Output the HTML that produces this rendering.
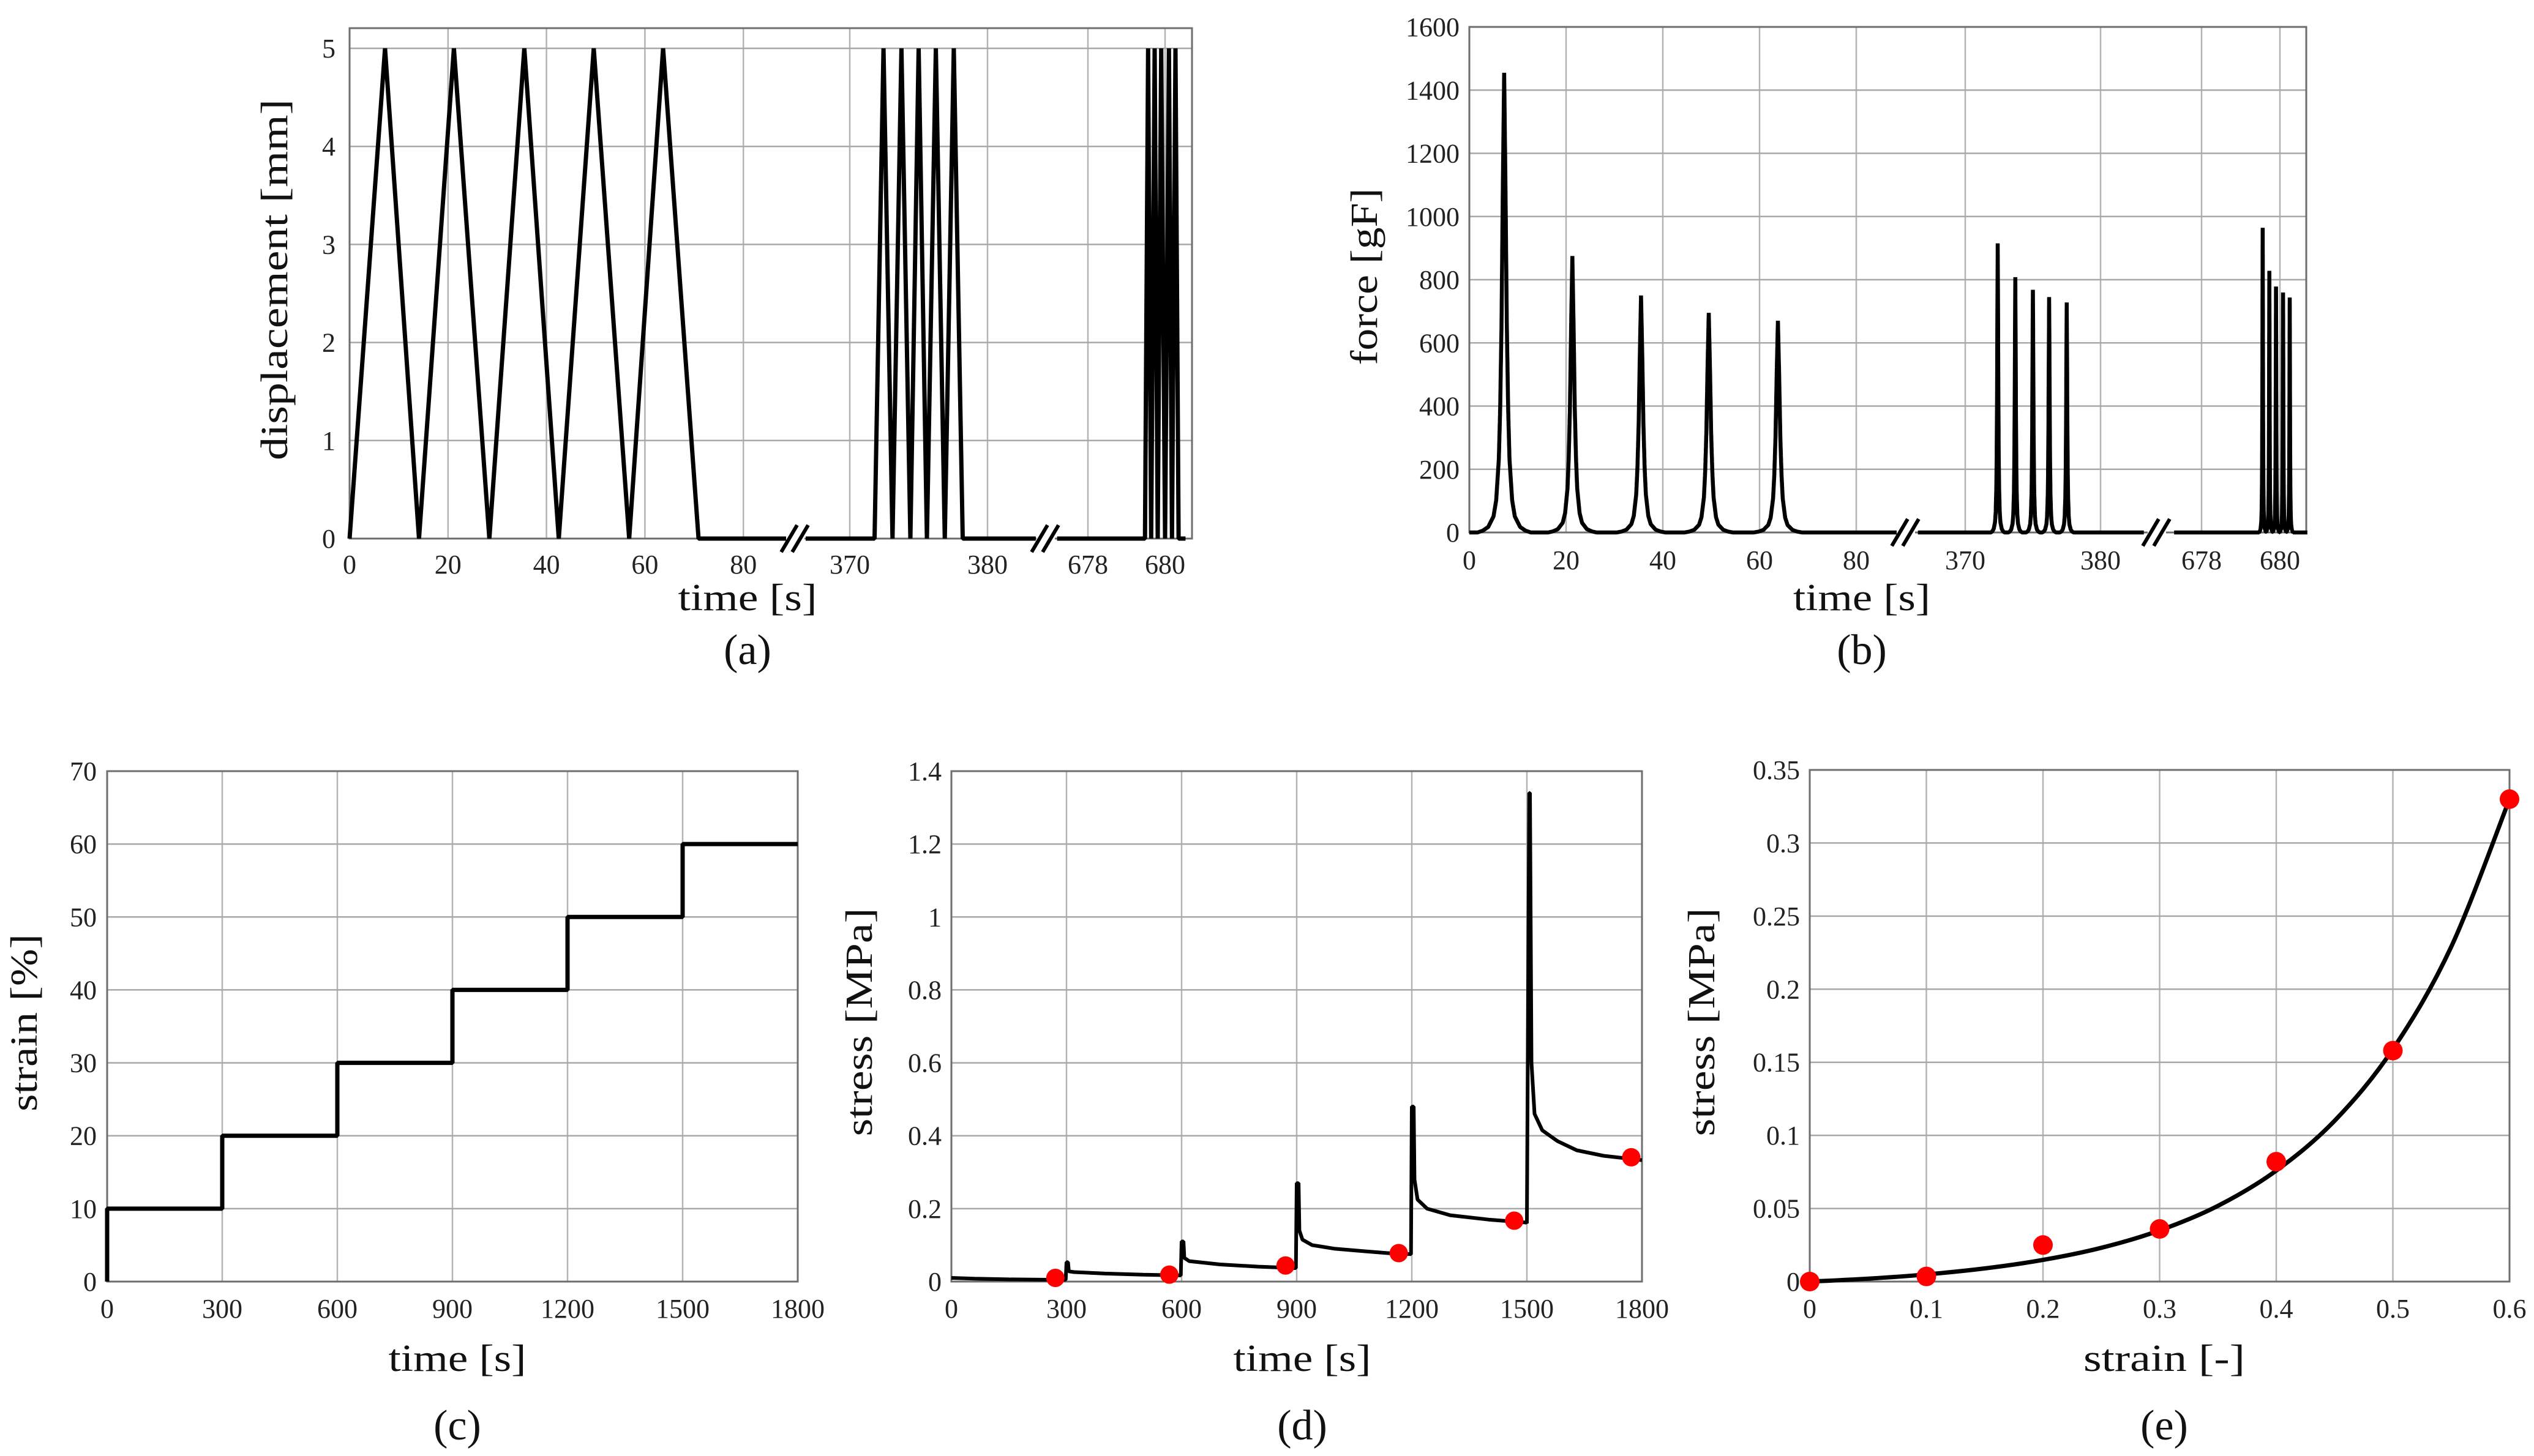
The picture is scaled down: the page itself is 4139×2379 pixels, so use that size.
<!DOCTYPE html>
<html><head><meta charset="utf-8"><title>Mechanical test figure</title>
<style>
html,body{margin:0;padding:0;background:#fff;}
svg{display:block;font-family:"Liberation Serif",serif;}
.tick{font-size:44px;fill:#222;}
.title{font-size:62px;fill:#111;}
.cap{font-size:70px;fill:#111;}
</style></head>
<body>
<svg id="fig" width="4139" height="2379" viewBox="0 0 4139 2379" xmlns="http://www.w3.org/2000/svg">
<rect x="0" y="0" width="4139" height="2379" fill="#fff"/>
</svg>
<script>
// ---------- (a) displacement data ----------
const dispTimes = [0,7.2,14.1,21.2,28.4,35.5,42.5,49.6,56.8,63.7,70.9,89,
  366.8,371.8,372.45,373.1,373.75,374.4,375.0,375.6,376.25,376.9,377.55,378.2,383.5,
  677.2,679.48,679.56,679.64,679.73,679.81,679.9,680.0,680.1,680.18,680.27,680.35,680.53];
const dispValues = [0,5,0,5,0,5,0,5,0,5,0,0,
  0,0,5,0,5,0,5,0,5,0,5,0,0,
  0,0,5,0,5,0,5,0,5,0,5,0,0];
const dispYTicks = [0,1,2,3,4,5];
// ---------- (b) force data ----------
const forcePeakTimes = [7.2,21.3,35.5,49.5,63.8, 372.4,373.7,375.0,376.2,377.5, 679.56,679.73,679.9,680.08,680.25];
const forcePeakValues = [1455,875,750,695,670, 915,808,768,745,728, 975,828,787,768,752];
const forcePeakWidths = [0.55,0.5,0.5,0.5,0.5, 0.05,0.05,0.05,0.05,0.05, 0.009,0.009,0.009,0.009,0.009];
const peakProfileU = [0,0.5,1,1.5,2,3,4,6,8,10];
const peakProfileF = [1,0.75,0.45,0.27,0.16,0.07,0.035,0.012,0.004,0];
const forceYTicks = [0,200,400,600,800,1000,1200,1400,1600];
// shared broken-axis tick labels
const brokenXTickValues = [0,20,40,60,80,370,380,678,680];
// ---------- (c) strain data ----------
const strainTimes = [0,0,300,300,600,600,900,900,1200,1200,1500,1500,1800];
const strainValues = [0,10,10,20,20,30,30,40,40,50,50,60,60];
const strainYTicks = [0,10,20,30,40,50,60,70];
const timeXTicks = [0,300,600,900,1200,1500,1800];
// ---------- (d) stress vs time ----------
const stressTimes = [0,60,150,250,298,300,304,306,320,400,500,598,600,605,607,620,700,800,898,
  900,905,907,915,940,1000,1080,1150,1198,1200,1205,1207,1215,1240,1300,1400,1498,
  1500,1506,1508,1512,1520,1540,1580,1630,1700,1800];
const stressValues = [0.010,0.008,0.006,0.005,0.005,0.053,0.053,0.028,0.026,0.022,0.019,0.017,0.11,0.11,0.065,0.056,0.047,0.041,0.037,
  0.27,0.27,0.14,0.115,0.1,0.09,0.083,0.077,0.075,0.48,0.48,0.28,0.225,0.2,0.182,0.17,0.162,
  0.16,1.34,1.34,0.6,0.46,0.415,0.385,0.36,0.345,0.333];
const stressDotTimes = [271,568,871,1166,1467,1772];
const stressDotValues = [0.010,0.019,0.044,0.078,0.167,0.341];
const stressYTicks = [0,0.2,0.4,0.6,0.8,1,1.2,1.4];
const stressYTickLabels = ["0","0.2","0.4","0.6","0.8","1","1.2","1.4"];
// ---------- (e) stress vs strain ----------
const fitStrain = [0,0.05,0.1,0.15,0.2,0.25,0.3,0.35,0.4,0.45,0.5,0.55,0.6];
const fitStress = [0,0.002,0.0049,0.009,0.0148,0.0231,0.035,0.0518,0.0759,0.110,0.159,0.229,0.330];
const ssDotStrain = [0,0.1,0.2,0.3,0.4,0.5,0.6];
const ssDotStress = [0,0.0035,0.025,0.036,0.082,0.158,0.330];
const ssXTicks = [0,0.1,0.2,0.3,0.4,0.5,0.6];
const ssXTickLabels = ["0","0.1","0.2","0.3","0.4","0.5","0.6"];
const ssYTicks = [0,0.05,0.1,0.15,0.2,0.25,0.3,0.35];
const ssYTickLabels = ["0","0.05","0.1","0.15","0.2","0.25","0.3","0.35"];

const NS = "http://www.w3.org/2000/svg";
const fig = document.getElementById('fig');
function el(tag, attrs, parent){ const e=document.createElementNS(NS,tag); for(const k in attrs) e.setAttribute(k,attrs[k]); (parent||fig).appendChild(e); return e; }
function txt(s, attrs, parent){ const e=el('text',attrs,parent); e.textContent=s; return e; }

function makeBroken(segs){
  return {segs, map(t){ for(const s of segs){ if(t>=s[0]-1e-9 && t<=s[1]+1e-9) return s[3]+(t-s[2])*s[4]; } return null; }};
}
function linear(d0,d1,r0,r1){ return v=>r0+(v-d0)*(r1-r0)/(d1-d0); }

function frameAndGrid(g, L,R,T,B, xPix, yPix){
  for(const x of xPix){ const l=el('line',{x1:x,x2:x,y1:T,y2:B,stroke:'#b4b4b4','stroke-width':2.5},g);
      }
  for(const y of yPix){ const l=el('line',{x1:L,x2:R,y1:y,y2:y,stroke:'#a8a8a8','stroke-width':2.5},g);
      }
  const f=el('rect',{x:L,y:T,width:R-L,height:B-T,fill:'none',stroke:'#6e6e6e','stroke-width':3},g);
   
}
function group(name){ const g=el('g',{});   return g; }
function yTickLabels(g, ys, labels, xRight){
  ys.forEach((y,i)=>{ const t=txt(labels[i],{x:xRight,y:y+15,'text-anchor':'end','class':'tick'},g);
      });
}
function xTickLabels(g, xs, labels, yBase){
  xs.forEach((x,i)=>{ const t=txt(labels[i],{x:x,y:yBase,'text-anchor':'middle','class':'tick'},g);
      });
}
function titles(g, xt, xcx, xby, yt, ycx, ycy, ylen, xlen, cap, cby){
  const a=txt(xt,{x:xcx,y:xby,'text-anchor':'middle','class':'title',textLength:xlen,lengthAdjust:'spacingAndGlyphs'},g);
   
  const b=txt(yt,{x:0,y:0,'text-anchor':'middle','class':'title',textLength:ylen,lengthAdjust:'spacingAndGlyphs',transform:`translate(${ycx+20},${ycy}) rotate(-90)`},g);
   
  const c=txt(cap,{x:xcx,y:cby,'text-anchor':'middle','class':'cap'},g);
   
}
function breakMark(g, x, y){
  const w=el('rect',{x:x-14,y:y-6,width:30,height:12,fill:'#fff'},g);
   
  for(const dx of [-9,9]){ const l=el('line',{x1:x+dx-13,y1:y+22,x2:x+dx+13,y2:y-22,stroke:'#000','stroke-width':6},g);
      }
}
function polyline(g, pts, sw, name){
  const p=el('polyline',{points:pts.map(p=>p[0].toFixed(1)+','+p[1].toFixed(1)).join(' '),fill:'none',stroke:'#000','stroke-width':sw,'stroke-linejoin':'bevel'},g);
    return p;
}

// ===== Panel (a) =====
(function(){
  const g=group('panel-a-displacement');
  const L=571,R=1947,T=46,B=880;
  const X=makeBroken([[0,89,0,571,8.04],[366.8,383.5,370,1388,22.5],[677.2,680.53,678,1777,63]]);
  const Y=linear(0,5,880,79);
  const xp=brokenXTickValues.map(v=>X.map(v)), yp=dispYTicks.map(Y);
  frameAndGrid(g,L,R,T,B,xp.slice(1),yp.slice(1));
  X.segs.forEach((s,si)=>{
    const pts=[]; dispTimes.forEach((t,i)=>{ if(t>=s[0]-1e-9&&t<=s[1]+1e-9) pts.push([X.map(t),Y(dispValues[i])]); });
    polyline(g,pts,7,'displacement-line-segment-'+(si+1));
  });
  breakMark(g,1298,880); breakMark(g,1707,880);
  yTickLabels(g,yp,dispYTicks.map(String),548);
  xTickLabels(g,xp,brokenXTickValues.map(String),937);
  titles(g,'time [s]',1221,997,'displacement [mm]',449,457,590,227,'(a)',1085);
})();

// ===== Panel (b) =====
(function(){
  const g=group('panel-b-force');
  const L=2400,R=3767,T=44,B=870;
  const X=makeBroken([[0,89.5,0,2400,7.9],[366.5,383.2,370,3210,22.1],[677.3,680.7,678,3596,64]]);
  const Y=linear(0,1600,870,44);
  const xp=brokenXTickValues.map(v=>X.map(v)), yp=forceYTicks.map(Y);
  frameAndGrid(g,L,R,T,B,xp.slice(1),yp.slice(1));
  function profile(u){ u=Math.abs(u); for(let i=1;i<peakProfileU.length;i++){ if(u<=peakProfileU[i]){ const a=peakProfileU[i-1],b=peakProfileU[i]; return peakProfileF[i-1]+(peakProfileF[i]-peakProfileF[i-1])*(u-a)/(b-a);} } return 0; }
  const steps=[0.02,0.004,0.0006];
  X.segs.forEach((s,si)=>{
    const pts=[];
    for(let t=s[0]; t<=s[1]+1e-9; t+=steps[si]){
      let f=0; forcePeakTimes.forEach((tp,i)=>{ f+=forcePeakValues[i]*profile((t-tp)/forcePeakWidths[i]); });
      pts.push([X.map(t),Y(f)]);
    }
    polyline(g,pts,6.5,'force-line-segment-'+(si+1));
  });
  breakMark(g,3112,870); breakMark(g,3522,870);
  yTickLabels(g,yp,forceYTicks.map(String),2384);
  xTickLabels(g,xp,brokenXTickValues.map(String),930);
  titles(g,'time [s]',3041,997,'force [gF]',2229,452,289,224,'(b)',1085);
})();

// ===== Panel (c) =====
(function(){
  const g=group('panel-c-strain');
  const L=175,R=1303,T=1260,B=2094;
  const X=linear(0,1800,L,R), Y=linear(0,70,B,T);
  const xp=timeXTicks.map(X), yp=strainYTicks.map(Y);
  frameAndGrid(g,L,R,T,B,xp.slice(1,-1),yp.slice(1,-1));
  polyline(g,strainTimes.map((t,i)=>[X(t),Y(strainValues[i])]),7,'strain-step-line');
  yTickLabels(g,yp,strainYTicks.map(String),158);
  xTickLabels(g,xp,timeXTicks.map(String),2153);
  titles(g,'time [s]',747,2240,'strain [%]',40,1671,290,225,'(c)',2352);
})();

// ===== Panel (d) =====
(function(){
  const g=group('panel-d-stress-time');
  const L=1554,R=2682,T=1260,B=2094;
  const X=linear(0,1800,L,R), Y=linear(0,1.4,B,T);
  const xp=timeXTicks.map(X), yp=stressYTicks.map(Y);
  frameAndGrid(g,L,R,T,B,xp.slice(1,-1),yp.slice(1,-1));
  polyline(g,stressTimes.map((t,i)=>[X(t),Y(stressValues[i])]),6,'stress-relaxation-line');
  stressDotTimes.forEach((t,i)=>{ const c=el('circle',{cx:X(t),cy:Y(stressDotValues[i]),r:15,fill:'#ff0000'},g);
      });
  yTickLabels(g,yp,stressYTickLabels,1538);
  xTickLabels(g,xp,timeXTicks.map(String),2153);
  titles(g,'time [s]',2127,2240,'stress [MPa]',1404,1670,373,225,'(d)',2352);
})();

// ===== Panel (e) =====
(function(){
  const g=group('panel-e-stress-strain');
  const L=2956,R=4099,T=1258,B=2094;
  const X=linear(0,0.6,L,R), Y=linear(0,0.35,B,T);
  const xp=ssXTicks.map(X), yp=ssYTicks.map(Y);
  frameAndGrid(g,L,R,T,B,xp.slice(1,-1),yp.slice(1,-1));
  const P=fitStrain.map((s,i)=>[X(s),Y(fitStress[i])]);
  let d='M'+P[0][0].toFixed(1)+','+P[0][1].toFixed(1);
  for(let i=0;i<P.length-1;i++){
    const p0=P[Math.max(i-1,0)],p1=P[i],p2=P[i+1],p3=P[Math.min(i+2,P.length-1)];
    const c1=[p1[0]+(p2[0]-p0[0])/6,p1[1]+(p2[1]-p0[1])/6], c2=[p2[0]-(p3[0]-p1[0])/6,p2[1]-(p3[1]-p1[1])/6];
    d+=` C${c1[0].toFixed(1)},${c1[1].toFixed(1)} ${c2[0].toFixed(1)},${c2[1].toFixed(1)} ${p2[0].toFixed(1)},${p2[1].toFixed(1)}`;
  }
  const path=el('path',{d:d,fill:'none',stroke:'#000','stroke-width':7},g);
   
  ssDotStrain.forEach((s,i)=>{ const c=el('circle',{cx:X(s),cy:Y(ssDotStress[i]),r:16,fill:'#ff0000'},g);
      });
  yTickLabels(g,yp,ssYTickLabels,2940);
  xTickLabels(g,xp,ssXTickLabels,2153);
  titles(g,'strain [-]',3535,2240,'stress [MPa]',2780,1670,373,264,'(e)',2352);
})();
</script>
</body></html>
